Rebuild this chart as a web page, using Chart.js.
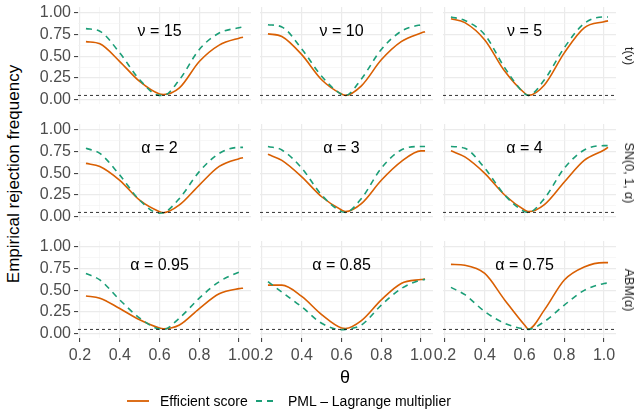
<!DOCTYPE html>
<html>
<head>
<meta charset="utf-8">
<script src="https://cdn.jsdelivr.net/npm/chart.js@4"></script>
<style>
  body { margin: 0; background: #fff; }
  #wrap { position: relative; width: 642px; height: 410px; overflow: hidden; font-family: "Liberation Sans", Arial, sans-serif; }
  canvas { position: absolute; }
  .txt { position: absolute; white-space: nowrap; }
</style>
</head>
<body>
<div id="wrap"></div>
<script>
// theta grid and tick positions
const theta = [0.23, 0.3, 0.4, 0.5, 0.6, 0.62, 0.7, 0.8, 0.9, 1.0, 1.02];
const xTicks = [0.2, 0.3, 0.4, 0.5, 0.6, 0.7, 0.8, 0.9, 1.0];
const xMajor = [0.2, 0.4, 0.6, 0.8, 1.0];
const yTicks = [0, 0.125, 0.25, 0.375, 0.5, 0.625, 0.75, 0.875, 1.0];
const yMajor = [0, 0.25, 0.5, 0.75, 1.0];
const nominal = 0.05;

const rowLabels = ["t(ν)", "SN(0, 1, α)", "ABM(α)"];
const panelLabels = ["ν = 15", "ν = 10", "ν = 5", "α = 2", "α = 3", "α = 4", "α = 0.95", "α = 0.85", "α = 0.75"];
const seriesNames = ["Efficient score", "PML – Lagrange multiplier"];

// Efficient score
const scoreNu15 = [0.67, 0.645, 0.44, 0.21, 0.065, 0.06, 0.135, 0.44, 0.63, 0.71, 0.72];
const scoreNu10 = [0.76, 0.73, 0.52, 0.23, 0.065, 0.05, 0.16, 0.46, 0.67, 0.77, 0.785];
const scoreNu5 = [0.935, 0.89, 0.69, 0.33, 0.077, 0.05, 0.17, 0.54, 0.83, 0.9, 0.91];
const scoreA2 = [0.615, 0.58, 0.42, 0.19, 0.058, 0.046, 0.135, 0.365, 0.58, 0.67, 0.68];
const scoreA3 = [0.72, 0.65, 0.46, 0.23, 0.077, 0.058, 0.15, 0.42, 0.635, 0.76, 0.76];
const scoreA4 = [0.76, 0.69, 0.5, 0.25, 0.077, 0.058, 0.14, 0.4, 0.65, 0.77, 0.8];
const scoreA095 = [0.435, 0.41, 0.29, 0.16, 0.065, 0.057, 0.10, 0.29, 0.46, 0.52, 0.525];
const scoreA085 = [0.56, 0.56, 0.43, 0.22, 0.065, 0.06, 0.15, 0.39, 0.58, 0.625, 0.63];
const scoreA075 = [0.80, 0.79, 0.695, 0.39, 0.10, 0.053, 0.275, 0.62, 0.77, 0.82, 0.82];

// PML - Lagrange multiplier
const pmlNu15 = [0.82, 0.79, 0.54, 0.23, 0.05, 0.05, 0.23, 0.58, 0.77, 0.83, 0.84];
const pmlNu10 = [0.865, 0.84, 0.585, 0.27, 0.06, 0.05, 0.24, 0.58, 0.79, 0.865, 0.87];
const pmlNu5 = [0.955, 0.915, 0.75, 0.37, 0.07, 0.05, 0.23, 0.6, 0.88, 0.955, 0.955];
const pmlA2 = [0.79, 0.73, 0.48, 0.19, 0.04, 0.045, 0.21, 0.52, 0.73, 0.8, 0.8];
const pmlA3 = [0.81, 0.77, 0.56, 0.25, 0.058, 0.05, 0.21, 0.56, 0.77, 0.81, 0.81];
const pmlA4 = [0.81, 0.79, 0.56, 0.25, 0.058, 0.05, 0.21, 0.56, 0.77, 0.82, 0.82];
const pmlA095 = [0.695, 0.62, 0.39, 0.18, 0.053, 0.05, 0.18, 0.41, 0.6, 0.71, 0.725];
const pmlA085 = [0.6, 0.48, 0.31, 0.12, 0.046, 0.05, 0.10, 0.33, 0.52, 0.62, 0.625];
const pmlA075 = [0.535, 0.45, 0.255, 0.12, 0.053, 0.05, 0.14, 0.33, 0.5, 0.58, 0.585];

const scoreAll = [scoreNu15, scoreNu10, scoreNu5, scoreA2, scoreA3, scoreA4, scoreA095, scoreA085, scoreA075];
const pmlAll = [pmlNu15, pmlNu10, pmlNu5, pmlA2, pmlA3, pmlA4, pmlA095, pmlA085, pmlA075];

const orange = "#D95F02";
const green = "#1B9E77";
const font = "'Liberation Sans', Arial, sans-serif";

// layout
const panelLeft = [78, 260, 443];
const panelW = 173;
const rowTop = [7, 124, 241];
const panelH = 97;
const xMin = 0.19, xMax = 1.06, yMin = -0.05, yMax = 1.07;

const wrap = document.getElementById("wrap");

function addText(txt, css) {
    const d = document.createElement("div");
    d.className = "txt";
    d.textContent = txt;
    Object.assign(d.style, css);
    wrap.appendChild(d);
    return d;
}

const isMajor = (v, list) => list.some(m => Math.abs(m - v) < 1e-6);

const panelLabel = {
    id: "panelLabel",
    afterDatasetsDraw(chart, args, opts) {
        const ctx = chart.ctx;
        ctx.save();
        ctx.font = "16px " + font;
        ctx.fillStyle = "#000";
        ctx.textAlign = "center";
        ctx.textBaseline = "middle";
        ctx.fillText(opts.text, chart.scales.x.getPixelForValue(0.6), chart.scales.y.getPixelForValue(0.79));
        ctx.restore();
    }
};

function makePanel(r, c) {
    const idx = r * 3 + c;
    const yW = c === 0 ? 48 : 0;
    const xH = r === 2 ? 28 : 0;
    const padL = c === 0 ? 0 : 14, padR = 14, padT = 16, padB = 16;
    const cv = document.createElement("canvas");
    const w = padL + yW + panelW + padR;
    const h = padT + panelH + xH + padB;
    cv.style.left = (panelLeft[c] - yW - padL) + "px";
    cv.style.top = (rowTop[r] - padT) + "px";
    cv.style.width = w + "px";
    cv.style.height = h + "px";
    cv.width = w; cv.height = h;
    wrap.appendChild(cv);

    const pts = arr => theta.map((t, i) => ({ x: t, y: arr[i] }));

    new Chart(cv.getContext("2d"), {
        type: "line",
        data: {
            datasets: [
                { label: "nominal", data: [{ x: xMin, y: nominal }, { x: xMax, y: nominal }],
                  borderColor: "#000", borderWidth: 0.8, borderDash: [3, 3], pointRadius: 0 },
                { label: seriesNames[1], data: pts(pmlAll[idx]), borderColor: green, borderWidth: 1.6,
                  borderDash: [6, 5], pointRadius: 0, cubicInterpolationMode: "monotone" },
                { label: seriesNames[0], data: pts(scoreAll[idx]), borderColor: orange, borderWidth: 1.6,
                  pointRadius: 0, cubicInterpolationMode: "monotone" }
            ]
        },
        options: {
            responsive: false,
            animation: false,
            layout: { padding: { left: padL, right: padR, top: padT, bottom: padB } },
            plugins: { legend: { display: false }, tooltip: { enabled: false }, panelLabel: { text: panelLabels[idx] } },
            scales: {
                x: {
                    type: "linear", min: xMin, max: xMax,
                    afterBuildTicks: s => { s.ticks = xTicks.map(v => ({ value: v })); },
                    afterFit: s => { s.height = xH; },
                    border: { display: false },
                    grid: {
                        color: ctx => isMajor(ctx.tick.value, xMajor) ? "#EBEBEB" : "#F2F2F2",
                        lineWidth: ctx => isMajor(ctx.tick.value, xMajor) ? 1.2 : 0.6,
                        drawTicks: r === 2, tickLength: 4, tickWidth: 1,
                        tickColor: ctx => isMajor(ctx.tick.value, xMajor) ? "#333" : "rgba(0,0,0,0)"
                    },
                    ticks: {
                        display: r === 2, color: "#4D4D4D", padding: 4, maxRotation: 0, autoSkip: false,
                        font: { family: font, size: 16 },
                        callback: v => isMajor(v, xMajor) ? v.toFixed(1) : ""
                    }
                },
                y: {
                    type: "linear", min: yMin, max: yMax,
                    afterBuildTicks: s => { s.ticks = yTicks.map(v => ({ value: v })); },
                    afterFit: s => { s.width = yW; },
                    border: { display: false },
                    grid: {
                        color: ctx => isMajor(ctx.tick.value, yMajor) ? "#EBEBEB" : "#F2F2F2",
                        lineWidth: ctx => isMajor(ctx.tick.value, yMajor) ? 1.2 : 0.6,
                        drawTicks: c === 0, tickLength: 4, tickWidth: 1,
                        tickColor: ctx => isMajor(ctx.tick.value, yMajor) ? "#333" : "rgba(0,0,0,0)"
                    },
                    ticks: {
                        display: c === 0, color: "#4D4D4D", padding: 3, autoSkip: false,
                        font: { family: font, size: 16 },
                        callback: v => isMajor(v, yMajor) ? v.toFixed(2) : ""
                    }
                }
            }
        },
        plugins: [panelLabel]
    });
}

for (let r = 0; r < 3; r++) {
    for (let c = 0; c < 3; c++) makePanel(r, c);
    addText(rowLabels[r], { fontSize: "12.5px", color: "#1A1A1A", left: "629px", top: (rowTop[r] + panelH / 2) + "px",
        transform: "translate(-50%, -50%) rotate(90deg)" });
}

// axis titles
addText("Empirical rejection frequency", { fontSize: "17px", color: "#000", left: "14px", top: "174px",
    transform: "translate(-50%, -50%) rotate(-90deg)" });
addText("θ", { fontSize: "18px", color: "#000", left: "345px", top: "377px", transform: "translate(-50%, -50%)" });

// legend
function legendKey(color, dash, left) {
    const svg = document.createElementNS("http://www.w3.org/2000/svg", "svg");
    svg.setAttribute("width", "22"); svg.setAttribute("height", "6");
    svg.style.position = "absolute"; svg.style.left = left + "px"; svg.style.top = "398px";
    const ln = document.createElementNS("http://www.w3.org/2000/svg", "line");
    ln.setAttribute("x1", "0"); ln.setAttribute("x2", "22"); ln.setAttribute("y1", "3"); ln.setAttribute("y2", "3");
    ln.setAttribute("stroke", color); ln.setAttribute("stroke-width", "1.8");
    if (dash) ln.setAttribute("stroke-dasharray", dash);
    svg.appendChild(ln);
    wrap.appendChild(svg);
}
legendKey(orange, null, 127);
addText(seriesNames[0], { fontSize: "14px", color: "#000", left: "160px", top: "401px", transform: "translateY(-50%)" });
legendKey(green, "6,5", 256);
addText(seriesNames[1], { fontSize: "14px", color: "#000", left: "288px", top: "401px", transform: "translateY(-50%)" });
</script>
</body>
</html>
